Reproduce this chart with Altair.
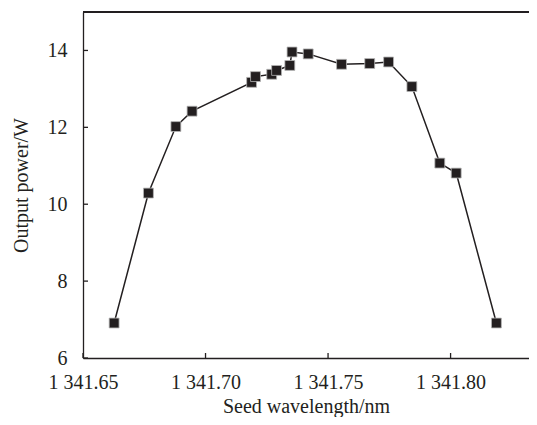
import altair as alt
import pandas as pd

wavelength = [1341.6627, 1341.6767, 1341.6879, 1341.6945, 1341.7188, 1341.7204,
              1341.7270, 1341.7290, 1341.7344, 1341.7353, 1341.7419, 1341.7555,
              1341.7670, 1341.7747, 1341.7842, 1341.7956, 1341.8023, 1341.8187]
power = [6.91, 10.29, 12.02, 12.42, 13.17, 13.32, 13.38, 13.48, 13.61, 13.96,
         13.91, 13.64, 13.66, 13.70, 13.06, 11.07, 10.81, 6.91]
x_ticks = [1341.65, 1341.70, 1341.75, 1341.80]
y_ticks = [6, 8, 10, 12, 14]

df = pd.DataFrame({"wl": wavelength, "p": power})
xt = pd.DataFrame({"v": x_ticks})
yt = pd.DataFrame({"v": y_ticks})

INK = "#231f20"
FONT = "Liberation Serif"
W, H = 446, 346
xdom = [1341.65, 1341.832]
ydom = [6, 15]
xs = alt.Scale(domain=xdom, nice=False, zero=False)
ys = alt.Scale(domain=ydom, nice=False, zero=False)
label_expr = "replace(format(datum.value, ',.2f'), ',', ' ')"

base = alt.Chart(df)

line = base.mark_line(color=INK, strokeWidth=1.5).encode(
    x=alt.X("wl:Q", scale=xs, axis=alt.Axis(
        orient="bottom", values=x_ticks, labelExpr=label_expr, ticks=False,
        labelFlush=False, labelOverlap=False,
        grid=False, title="Seed wavelength/nm", labelPadding=14, titlePadding=4)),
    y=alt.Y("p:Q", scale=ys, axis=alt.Axis(
        orient="left", values=y_ticks, ticks=False, grid=False,
        labelFlush=False, labelOverlap=False,
        title="Output power/W", labelPadding=16, titlePadding=16)),
)

points = base.mark_point(shape="square", filled=True, fill=INK, stroke="#b5b5b5",
                         strokeWidth=0.8, size=98, opacity=1).encode(
    x=alt.X("wl:Q", scale=xs),
    y=alt.Y("p:Q", scale=ys),
)

xtick_rules = alt.Chart(xt).mark_rule(color=INK, strokeWidth=1.3).encode(
    x=alt.X("v:Q", scale=xs),
    y=alt.value(H),
    y2=alt.value(H - 5),
)

ytick_rules = alt.Chart(yt).mark_rule(color=INK, strokeWidth=1.3).encode(
    y=alt.Y("v:Q", scale=ys),
    x=alt.value(0),
    x2=alt.value(5),
)

top_border = alt.Chart(yt).mark_rule(color=INK, strokeWidth=1.3).encode(
    y=alt.value(0),
    x=alt.value(0),
    x2=alt.value(W),
)

chart = alt.layer(line, points, xtick_rules, ytick_rules, top_border).properties(
    width=W, height=H,
    autosize=alt.AutoSizeParams(type="none"),
    padding={"left": 75, "top": 4, "right": 0, "bottom": 59},
).configure_view(strokeWidth=0, stroke="transparent").configure_axis(
    labelFont=FONT, titleFont=FONT, labelFontSize=20, titleFontSize=20,
    labelColor=INK, titleColor=INK, titleFontWeight="normal",
    domainColor=INK, domainWidth=1.3,
)

chart.save("out.html", embed_options={"renderer": "svg", "actions": False})
